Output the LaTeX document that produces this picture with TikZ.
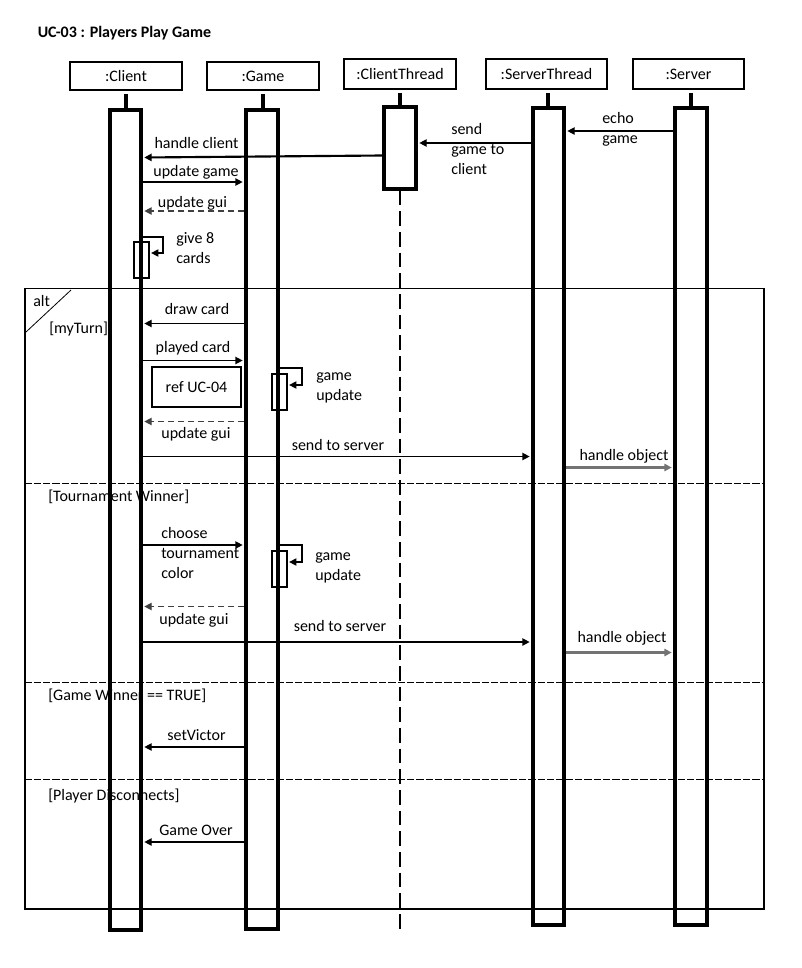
\documentclass[tikz,border=0pt]{standalone}
\usepackage{fontspec}
\setmainfont{Carlito}
\usetikzlibrary{arrows.meta,fit}
\begin{document}
\begin{tikzpicture}[x=0.75pt,y=-0.75pt,
  every node/.style={font=\fontsize{12}{15}\selectfont, inner sep=0pt},
  head/.style={draw, line width=0.8pt, minimum height=21pt},
  bar/.style={draw, line width=2.6pt},
  actbox/.style={draw, line width=0.8pt},
  stem/.style={line width=2.6pt, shorten <=2.5pt},
  msg/.style={line width=1pt, shorten >=1.2pt, -{Triangle[length=5.5pt,width=5.5pt]}},
  reply/.style={msg, draw=black!75, dash pattern=on 5pt off 2.5pt},
  async/.style={msg, draw=black!55, line width=1.6pt},
  frame/.style={draw, line width=0.8pt},
  sep/.style={line width=0.65pt, dash pattern=on 5.5pt off 1.5pt},
  lbl/.style={anchor=base},
  lbll/.style={anchor=base west, align=left},
]
\useasboundingbox (0,0) rectangle (801,968);

% title
\node[anchor=base west, font=\bfseries\fontsize{12}{15}\selectfont] (title) at (37.5,37) {UC-03 : Players Play Game};

% lifeline heads
\node[head, minimum width=84pt] (clhead) at (126,76) {:Client};
\node[head, minimum width=84pt] (gmhead) at (263,76) {:Game};
\node[head, minimum width=84pt, minimum height=22.5pt] (cthead) at (400,74) {:ClientThread};
\node[head, minimum width=90.75pt, minimum height=22.5pt] (sthead) at (546.5,74) {:ServerThread};
\node[head, minimum width=83.25pt, minimum height=22.5pt] (svhead) at (688.5,74) {:Server};

% combined fragment
\node[frame, fit={(25,288.5)(764,909)}] (alt) {};
\draw[line width=0.6pt] (26,332) -- (71,290);
\node[lbll] (altlbl) at (33,306.5) {alt};
\node[lbll] (g1) at (49,333) {[myTurn]};
\draw[sep] (alt.west |- 0,483) -- (alt.east |- 0,483);
\node[lbll] (g2) at (48,501.5) {[Tournament Winner]};
\draw[sep] (alt.west |- 0,682.5) -- (alt.east |- 0,682.5);
\node[lbll] (g3) at (48,700.5) {[Game Winner == TRUE]};
\draw[sep] (alt.west |- 0,779) -- (alt.east |- 0,779);
\node[lbll] (g4) at (48,800) {[Player Disconnects]};

% activation bars
\node[bar, fit={(110,110)(141,930)}] (clbar) {};
\node[bar, fit={(246,110)(278,929)}] (gmbar) {};
\node[bar, fit={(384,107)(416,189)}] (ctbar) {};
\node[bar, fit={(533,108)(564,925)}] (stbar) {};
\node[bar, fit={(675,108)(707,925)}] (svbar) {};

% stems from heads to bars
\draw[stem] (clhead.south) -- (clhead.south |- clbar.north);
\draw[stem] (gmhead.south) -- (gmhead.south |- gmbar.north);
\draw[stem] (cthead.south) -- (cthead.south |- ctbar.north);
\draw[stem] (548,89.5) -- (548,108);
\draw[stem] (691,89.5) -- (691,108);
\coordinate (ctend) at (400,930);
\draw[line width=2.2pt, dash pattern=on 11pt off 4.5pt] (ctbar.south) -- (ctend);

% nested executions
\node[actbox, fit={(134,242)(149,278)}] (give) {};
\node[actbox, fit={(272,374)(287,410)}] (gu1) {};
\node[actbox, fit={(272,551)(287,587)}] (gu2) {};
\node[actbox, minimum width=66.75pt, minimum height=30pt] (ref) at (196.5,387) {ref UC-04};

% messages (multi-line labels are placed by their last baseline)
\draw[msg] (svbar.west |- 0,131) -- (stbar.east |- 0,131);
\node[lbll] (lecho) at (602,143) {echo\\game};
\draw[msg] (stbar.west |- 0,143) -- (ctbar.east |- 0,143);
\node[lbll] (lsend) at (451,174) {send\\game to\\client};
\draw[msg, line width=1.6pt] (ctbar.west |- 0,155.5) -- (clbar.east |- 0,157.5);
\node[lbl] (lhc) at (196.5,148) {handle client};
\draw[msg] (clbar.east |- 0,182) -- (gmbar.west |- 0,182);
\node[lbl] (lug) at (196,176) {update game};
\draw[reply] (gmbar.west |- 0,211) -- (clbar.east |- 0,211);
\node[lbl] (lgui1) at (192.5,207) {update gui};
\draw[msg] (clbar.east |- 0,237) -| (163,253) -- (give.east |- 0,253);
\node[lbll] (lgive) at (176,263) {give 8\\cards};

\draw[msg] (gmbar.west |- 0,323.5) -- (clbar.east |- 0,323.5);
\node[lbl] (ldraw) at (197,314) {draw card};
\draw[msg] (clbar.east |- 0,360.5) -- (gmbar.west |- 0,360.5);
\node[lbl] (lplay) at (193,352.5) {played card};
\draw[msg] (gmbar.east |- 0,368) -| (302,385) -- (gu1.east |- 0,385);
\node[lbll] (lgu1) at (316,400) {game\\update};
\draw[reply] (gmbar.west |- 0,421.5) -- (clbar.east |- 0,421.5);
\node[lbl] (lgui2) at (196,438.5) {update gui};
\draw[msg] (clbar.east |- 0,456.5) -- (stbar.west |- 0,456.5);
\node[lbl] (lsts1) at (338,450) {send to server};
\draw[async] (stbar.east |- 0,467.5) -- (svbar.west |- 0,467.5);
\node[lbl] (lho1) at (624,460.5) {handle object};

\draw[msg] (clbar.east |- 0,545) -- (gmbar.west |- 0,545);
\node[lbll] (lchoose) at (161,578) {choose\\tournament\\color};
\draw[msg] (gmbar.east |- 0,545) -| (302,562) -- (gu2.east |- 0,562);
\node[lbll] (lgu2) at (315,580) {game\\update};
\draw[reply] (gmbar.west |- 0,606.5) -- (clbar.east |- 0,606.5);
\node[lbl] (lgui3) at (194,624) {update gui};
\draw[msg] (clbar.east |- 0,642) -- (stbar.west |- 0,642);
\node[lbl] (lsts2) at (340,631.5) {send to server};
\draw[async] (stbar.east |- 0,652.5) -- (svbar.west |- 0,652.5);
\node[lbl] (lho2) at (622,642.5) {handle object};

\draw[msg] (gmbar.west |- 0,747) -- (clbar.east |- 0,747);
\node[lbl] (lvic) at (196.5,740) {setVictor};
\draw[msg] (gmbar.west |- 0,842) -- (clbar.east |- 0,842);
\node[lbl] (lover) at (196,835.5) {Game Over};
\end{tikzpicture}
\end{document}
